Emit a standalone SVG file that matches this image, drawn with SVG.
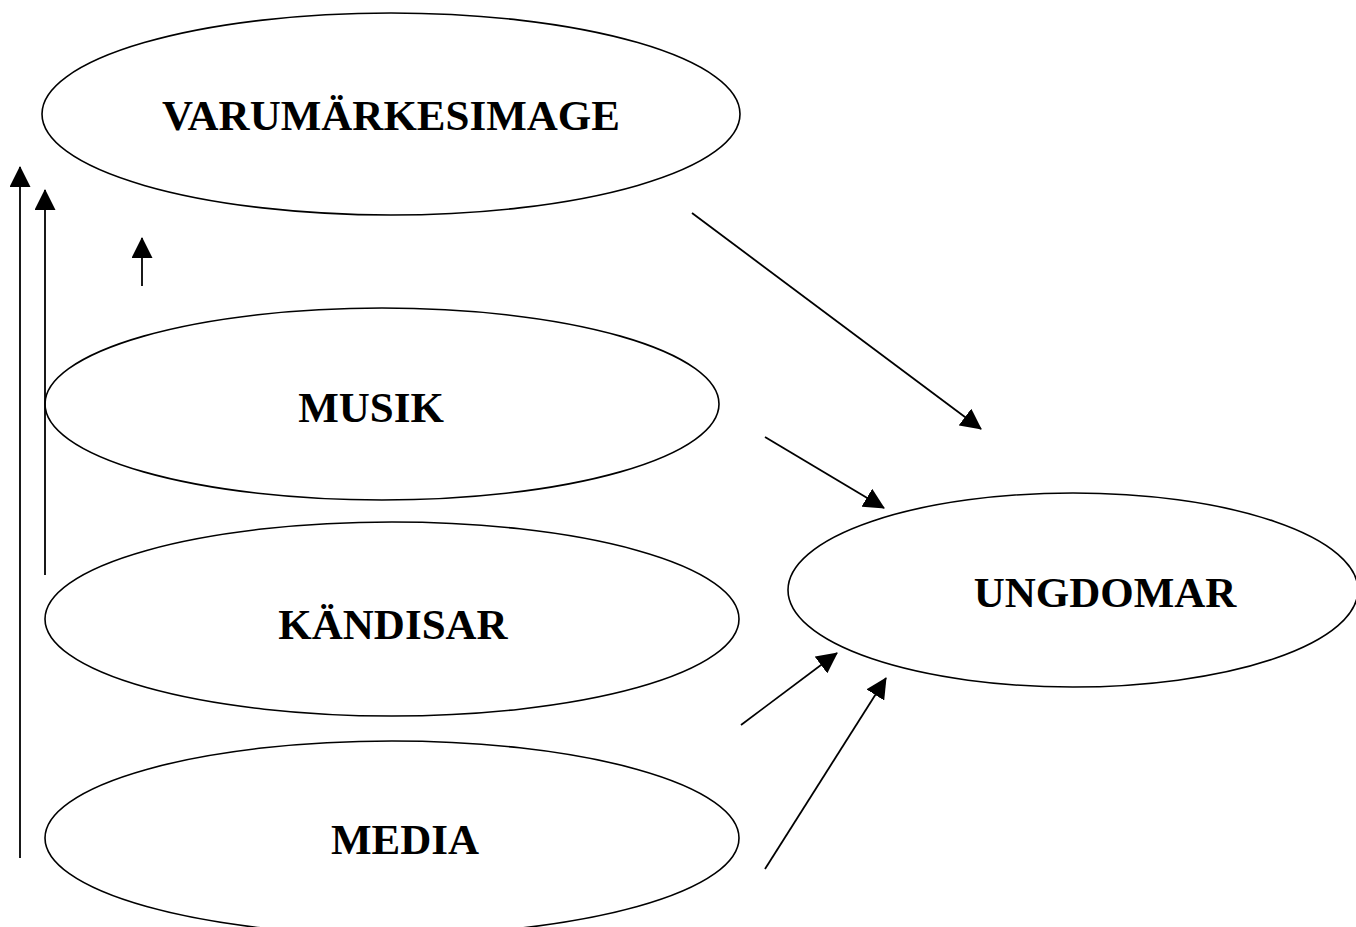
<svg xmlns="http://www.w3.org/2000/svg" width="1356" height="927" viewBox="0 0 1356 927">
<style>
.n{fill:#fff;stroke:#000;stroke-width:1.6}
.t{font-family:"Liberation Serif","Times New Roman",serif;font-weight:bold;font-size:43px;fill:#000;text-anchor:middle}
.c{stroke:#000;stroke-width:1.8;fill:none;marker-end:url(#ah)}
</style>
<defs>
<marker id="ah" markerUnits="userSpaceOnUse" markerWidth="21" markerHeight="21" viewBox="0 0 21 21" refX="20" refY="10.5" orient="auto">
<path d="M0,0 L21,10.5 L0,21 z" fill="#000"/>
</marker>
</defs>
<rect width="1356" height="927" fill="#fff"/>
<g id="varumarkesimage"><ellipse class="n" cx="391" cy="114" rx="349" ry="101"/><text class="t" x="391" y="130">VARUMÄRKESIMAGE</text></g>
<g id="musik"><ellipse class="n" cx="382" cy="404" rx="337" ry="96"/><text class="t" x="371" y="422">MUSIK</text></g>
<g id="kandisar"><ellipse class="n" cx="392" cy="619" rx="347" ry="97"/><text class="t" x="393" y="639">KÄNDISAR</text></g>
<g id="media"><ellipse class="n" cx="392" cy="838" rx="347" ry="97"/><text class="t" x="405" y="854">MEDIA</text></g>
<g id="ungdomar"><ellipse class="n" cx="1073" cy="590" rx="285" ry="97"/><text class="t" x="1105" y="607">UNGDOMAR</text></g>
<g id="connectors">
<line class="c" x1="20" y1="858" x2="20" y2="167"/>
<line class="c" x1="45" y1="575" x2="45" y2="190"/>
<line class="c" x1="142" y1="286" x2="142" y2="238"/>
<line class="c" x1="692" y1="213" x2="981" y2="429"/>
<line class="c" x1="765" y1="437" x2="884" y2="508"/>
<line class="c" x1="741" y1="725" x2="837" y2="653"/>
<line class="c" x1="765" y1="869" x2="886" y2="678"/>
</g>
</svg>
